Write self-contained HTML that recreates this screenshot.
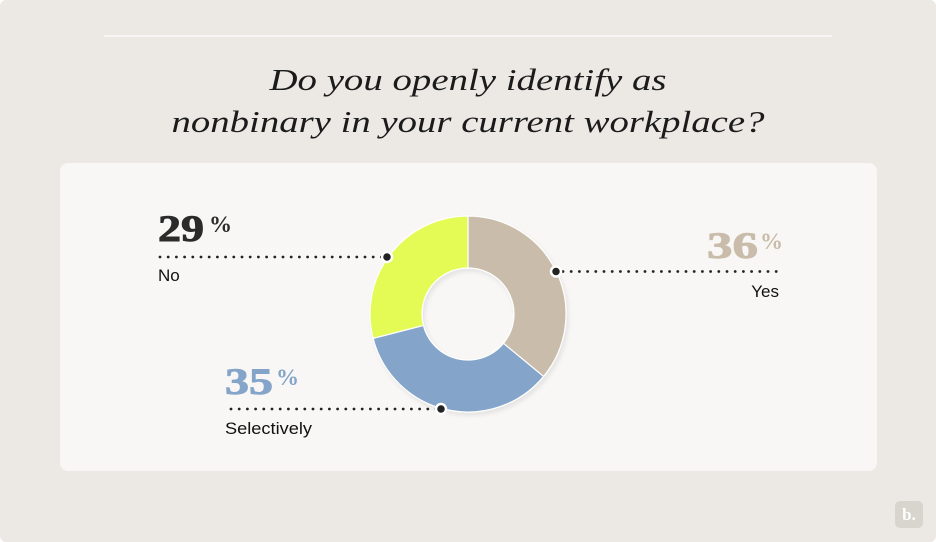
<!DOCTYPE html>
<html>
<head>
<meta charset="utf-8">
<style>
  html,body{margin:0;padding:0;background:#ffffff;}
  body{width:936px;height:542px;overflow:hidden;}
  svg{display:block;}
</style>
</head>
<body>
<svg width="936" height="542" viewBox="0 0 936 542" xmlns="http://www.w3.org/2000/svg">
  <defs>
    <filter id="sh" x="-20%" y="-20%" width="140%" height="140%">
      <feDropShadow dx="2" dy="3" stdDeviation="2" flood-color="#000" flood-opacity="0.08"/>
    </filter>
  </defs>
  <rect x="0" y="0" width="936" height="542" rx="6" ry="6" fill="#ece9e5"/>
  <line x1="104" y1="36" x2="832" y2="36" stroke="#ffffff" stroke-width="1.2"/>

  <text x="468" y="90" text-anchor="middle" font-family="Liberation Serif, serif" font-style="italic" font-size="31" fill="#1b1b1b" textLength="397" lengthAdjust="spacingAndGlyphs">Do you openly identify as</text>
  <text x="468" y="132" text-anchor="middle" font-family="Liberation Serif, serif" font-style="italic" font-size="31" fill="#1b1b1b" textLength="593" lengthAdjust="spacingAndGlyphs">nonbinary in your current workplace?</text>

  <rect x="60" y="163" width="817" height="308" rx="8" ry="8" fill="#f8f7f5"/>

  <!-- donut -->
  <g filter="url(#sh)" stroke="#ffffff" stroke-width="1.2" stroke-linejoin="round">
    <path d="M468,216 A98,98 0 0 1 543.51,376.47 L503.44,343.32 A46,46 0 0 0 468,268 Z" fill="#c9bcaa"/>
    <path d="M543.51,376.47 A98,98 0 0 1 373.08,338.37 L423.44,325.44 A46,46 0 0 0 503.44,343.32 Z" fill="#84a4c9"/>
    <path d="M373.08,338.37 A98,98 0 0 1 468,216 L468,268 A46,46 0 0 0 423.44,325.44 Z" fill="#e4fb56"/>
  </g>

  <!-- dotted leader lines -->
  <g stroke="#222222" stroke-width="2.8" stroke-linecap="round" stroke-dasharray="0 8.2" fill="none">
    <line x1="160" y1="257" x2="382" y2="257"/>
    <line x1="563" y1="271.5" x2="777" y2="271.5"/>
    <line x1="231" y1="409" x2="436" y2="409"/>
  </g>
  <g fill="#232323" stroke="#ffffff" stroke-width="2.5">
    <circle cx="387" cy="257" r="5"/>
    <circle cx="556" cy="271.5" r="5"/>
    <circle cx="441" cy="409" r="5"/>
  </g>

  <!-- 29% No -->
  <text x="158" y="241" font-family="Liberation Serif, serif" font-weight="bold" font-size="37" fill="#2b2b2b" stroke="#2b2b2b" stroke-width="0.9" textLength="46" lengthAdjust="spacingAndGlyphs">29</text>
  <text x="209" y="232" font-family="Liberation Serif, serif" font-weight="bold" font-size="23" fill="#2b2b2b">%</text>
  <text x="158" y="281" font-family="Liberation Sans, sans-serif" font-size="17" fill="#111111">No</text>

  <!-- 36% Yes -->
  <text x="707" y="258" font-family="Liberation Serif, serif" font-weight="bold" font-size="37" fill="#c9bcaa" stroke="#c9bcaa" stroke-width="0.9" textLength="51" lengthAdjust="spacingAndGlyphs">36</text>
  <text x="760" y="249" font-family="Liberation Serif, serif" font-weight="bold" font-size="23" fill="#c9bcaa">%</text>
  <text x="779" y="297" text-anchor="end" font-family="Liberation Sans, sans-serif" font-size="17" fill="#111111">Yes</text>

  <!-- 35% Selectively -->
  <text x="225" y="394" font-family="Liberation Serif, serif" font-weight="bold" font-size="37" fill="#84a4c9" stroke="#84a4c9" stroke-width="0.9" textLength="48" lengthAdjust="spacingAndGlyphs">35</text>
  <text x="276" y="385" font-family="Liberation Serif, serif" font-weight="bold" font-size="23" fill="#84a4c9">%</text>
  <text x="225" y="434" font-family="Liberation Sans, sans-serif" font-size="17" fill="#111111" textLength="87" lengthAdjust="spacingAndGlyphs">Selectively</text>

  <!-- logo -->
  <rect x="895" y="501" width="28" height="27" rx="5" ry="5" fill="#d8d5cf"/>
  <text x="909" y="520" text-anchor="middle" font-family="Liberation Serif, serif" font-weight="bold" font-size="17" fill="#ffffff">b.</text>
</svg>
</body>
</html>
